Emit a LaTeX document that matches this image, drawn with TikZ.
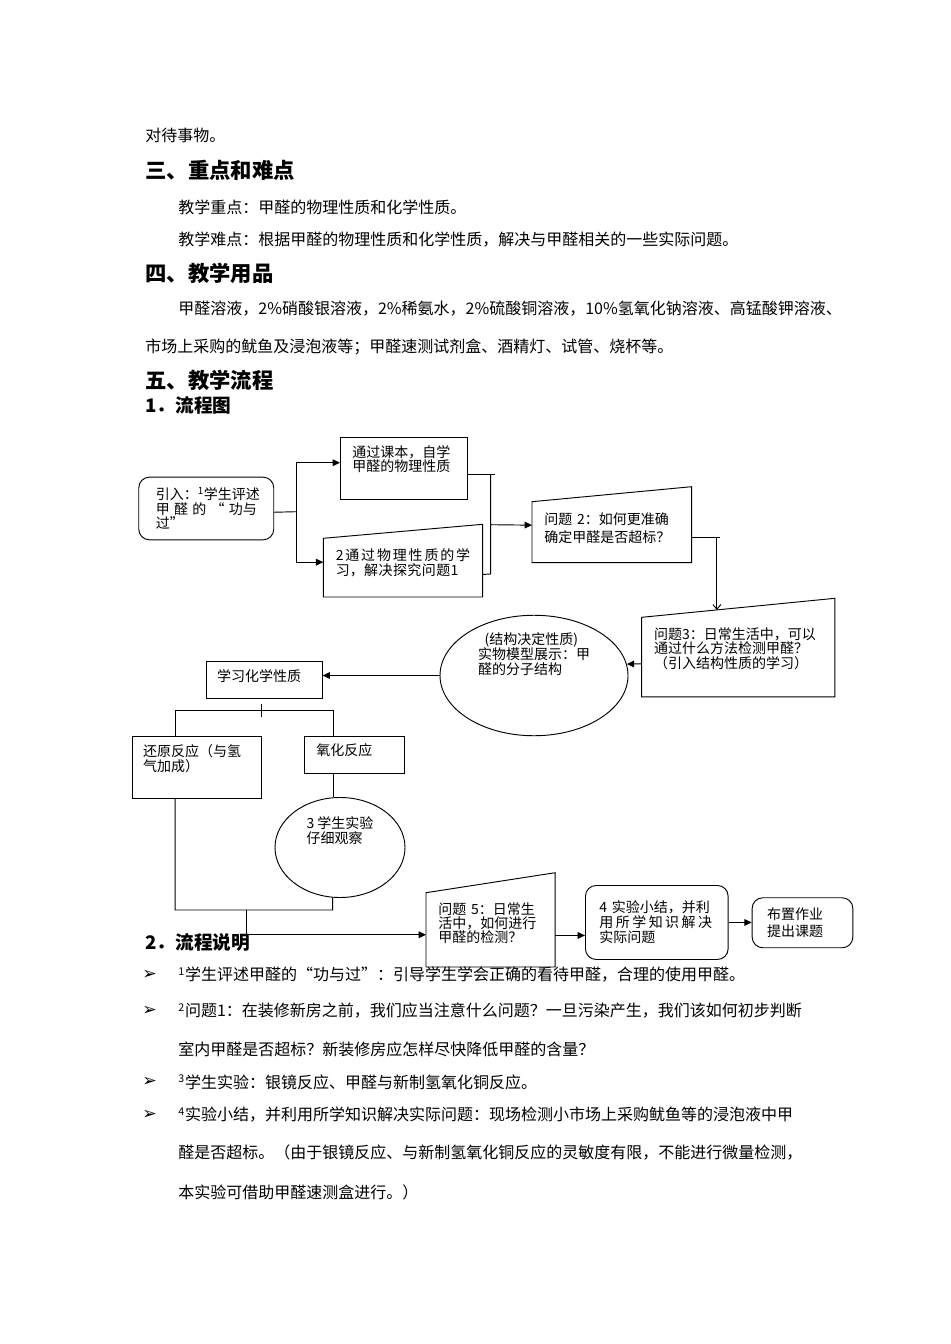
\documentclass[tikz,border=0pt]{standalone}
\usepackage{fontspec}
\setmainfont{Noto Sans CJK SC}
\newfontfamily\symfont{DejaVu Sans}
\usetikzlibrary{arrows.meta, calc, shapes.geometric}

\newcommand{\boxfont}{\fontsize{10.5}{11}\selectfont}
\newcommand{\spreadline}[2]{\makebox[#1][l]{#2}}

\begin{document}
\begin{tikzpicture}[x=0.75pt, y=-0.75pt, line width=0.7pt,
  rectbox/.style={draw, rectangle, anchor=north west, inner xsep=9pt, inner ysep=2pt, align=left, font=\boxfont},
  roundbox/.style={rectbox, rounded corners=8pt},
  inbox/.style={rectbox, draw=none},
  ovalbox/.style={draw, ellipse, inner sep=0pt, align=left, font=\boxfont},
  arr/.style={-{Triangle[length=5.5pt, width=5pt]}},
  barb/.style={-{Straight Barb[length=3.5pt, width=6pt]}},
  bodytext/.style={anchor=west, inner sep=0pt, font=\fontsize{12}{14}\selectfont},
  headtext/.style={bodytext, font=\fontsize{16}{18}\selectfont\bfseries},
  subhead/.style={bodytext, font=\fontsize{14}{16}\selectfont\bfseries},
  bullet/.style={anchor=west, inner sep=0pt, font=\symfont\fontsize{13}{13}\selectfont}]

  \fill[white] (0,0) rectangle (950,1344);
  \useasboundingbox (0,0) rectangle (950,1344);

  % ---- text above the chart ----
  \node[bodytext] (t0) at (145,135) {对待事物。};
  \node[headtext] (h3) at (145,170) {三、重点和难点};
  \node[bodytext] (t1) at (178,207) {教学重点：甲醛的物理性质和化学性质。};
  \node[bodytext] (t2) at (178,240) {教学难点：根据甲醛的物理性质和化学性质，解决与甲醛相关的一些实际问题。};
  \node[headtext] (h4) at (145,273) {四、教学用品};
  \node[bodytext] (t3) at (178,309) {甲醛溶液，2\%硝酸银溶液，2\%稀氨水，2\%硫酸铜溶液，10\%氢氧化钠溶液、高锰酸钾溶液、};
  \node[bodytext] (t4) at (145,347) {市场上采购的鱿鱼及浸泡液等；甲醛速测试剂盒、酒精灯、试管、烧杯等。};
  \node[headtext] (h5) at (145,380) {五、教学流程};
  \node[subhead] (s1) at (145,405) {1．流程图};

  % ---- first row ----
  \node[roundbox, inner xsep=12.75pt, text width=75.75pt, minimum height=47pt] (intro) at (138.3,476.7)
    {引入：\textsuperscript{1}学生评述\\\spreadline{75.75pt}{甲\hfill 醛\hfill 的\hfill “\hfill 功与}\\过”};
  \node[rectbox, text width=77.25pt, minimum height=46.5pt, text depth=25.8pt] (kb) at (340,437)
    {通过课本，自学\\甲醛的物理性质};
  \node[inbox, text width=100.8pt, minimum height=43.3pt, text depth=19.1pt] (tj) at (323.3,538.3)
    {\spreadline{100.8pt}{2\hfill 通\hfill 过\hfill 物\hfill 理\hfill 性\hfill 质\hfill 的\hfill 学}\\\spreadline{92pt}{习，\hfill 解\hfill 决\hfill 探\hfill 究\hfill 问\hfill 题\hfill 1}};
  \draw (tj.south west) -- (tj.north west) -- ([yshift=10.5pt]tj.north east) -- (tj.south east) -- cycle;
  \node[inbox, text width=101pt, minimum height=45pt, text depth=20pt, font=\fontsize{10.5}{13}\selectfont] (q2) at (532,501.7)
    {问题 2：如何更准确\\确定甲醛是否超标？};
  \draw (q2.south west) -- (q2.north west) -- ([yshift=11.25pt]q2.north east) -- (q2.south east) -- cycle;

  \coordinate (j1) at (296.7,511.7);
  \draw ([yshift=-2.8pt]intro.east) -- (j1);
  \draw[arr] (j1) |- ([yshift=4.3pt]kb.west);
  \draw[arr] (j1) |- ([yshift=4.1pt]tj.west);

  \coordinate (j2t) at (490.7,474.3);
  \coordinate (j2b) at (490.7,574);
  \coordinate (j2) at (490.7,524.7);
  \draw ([yshift=-4.7pt]kb.east) -- ++(27,0);
  \draw (j2t) -- (j2b) -- ([yshift=-5.1pt]tj.east);
  \draw[arr] (j2) -- ([yshift=5.25pt]q2.west);

  % ---- second row ----
  \node[inbox, text width=126.2pt, minimum height=59pt, text depth=35.6pt] (q3) at (641.7,617.3)
    {问题3：日常生活中，可以\\通过什么方法检测甲醛？\\（引入结构性质的学习）};
  \draw (q3.south west) -- (q3.north west) -- ([yshift=14.25pt]q3.north east) -- (q3.south east) -- cycle;
  \node[ovalbox, minimum width=141pt, minimum height=86.25pt, text depth=33pt] (jg) at (534,675.5)
    {\hspace{5pt}(结构决定性质)\\实物模型展示：甲\\醛的分子结构};
  \node[rectbox, inner xsep=8.25pt, text width=70.5pt, minimum height=27.75pt, text depth=6.5pt] (sx) at (205.7,661)
    {学习化学性质};

  \draw ([yshift=-4pt]q2.east) -- ++(28.6,0);
  \draw[barb] ([yshift=-4pt]q2.east) -| ($(q3.north west)!0.389!([yshift=14.25pt]q3.north east)$);
  \draw[arr] ([yshift=-5pt]q3.west) -- (jg.7.8);
  \draw[arr] (jg.west) -- (sx.east |- jg.west);

  % ---- reactions ----
  \node[rectbox, inner xsep=8.25pt, text width=80.25pt, minimum height=46.3pt, text depth=25.1pt] (hy) at (131.7,736)
    {还原反应（与氢\\气加成）};
  \node[rectbox, text width=57.2pt, minimum height=28pt, text depth=8pt] (yh) at (304,736)
    {氧化反应};
  \node[ovalbox, minimum width=97.5pt, minimum height=75pt, text depth=26.6pt] (sy) at (340,847.5)
    {3 学生实验\\仔细观察};

  \draw ([xshift=-2.4pt, yshift=-3.75pt]sx.south) -- ++(0,13);
  \draw ([xshift=-16.1pt]hy.north) -- ++(0,-25.3) -| ([xshift=-16.1pt]yh.north);
  \draw ([xshift=-16.1pt]yh.south) -- ([xshift=-16.1pt]yh.south |- sy.north);

  % ---- last row ----
  \node[inbox, text width=78.2pt, minimum height=55pt, text depth=31.3pt, font=\fontsize{10.5}{10.5}\selectfont] (q5) at (426,892.7)
    {问题 5：日常生\\活中，如何进行\\甲醛的检测？};
  \draw (q5.south west) -- (q5.north west) -- ([yshift=15pt]q5.north east) -- (q5.south east) -- cycle;
  \node[roundbox, inner xsep=10.5pt, text width=86pt, minimum height=55.5pt, font=\fontsize{10.5}{11.25}\selectfont] (xs) at (585,885)
    {4 实验小结，并利\\\spreadline{84.5pt}{用\hfill 所\hfill 学\hfill 知\hfill 识\hfill 解\hfill 决}\\实际问题};
  \node[roundbox, inner xsep=11.25pt, text width=53pt, minimum height=37.5pt, font=\fontsize{10.5}{12.5}\selectfont] (bz) at (751.7,897.3)
    {布置作业\\提出课题};

  \coordinate (j3) at (246.7,910);
  \coordinate (j4) at (332.7,910);
  \draw ([xshift=-16.1pt]hy.south) |- (j4) -- ([xshift=-5.5pt]sy.south);
  \draw[arr] (j3) |- ([yshift=-3.7pt]q5.west);
  \draw[arr] ([yshift=-4.2pt]q5.east) coordinate (c5) -- (xs.west |- c5);
  \draw[arr] (xs.east) -- (bz.west |- xs.east);

  % ---- notes below the chart ----
  \node[subhead] (s2) at (145,942) {2．流程说明};
  \node[bullet] (m1) at (142,975) {➢};
  \node[bodytext] (b1) at (178,975) {\textsuperscript{1}学生评述甲醛的“功与过”：引导学生学会正确的看待甲醛，合理的使用甲醛。};
  \node[bullet] (m2) at (142,1011) {➢};
  \node[bodytext] (b2) at (178,1011) {\textsuperscript{2}问题1：在装修新房之前，我们应当注意什么问题？一旦污染产生，我们该如何初步判断};
  \node[bodytext] (b2b) at (178,1049) {室内甲醛是否超标？新装修房应怎样尽快降低甲醛的含量？};
  \node[bullet] (m3) at (142,1082) {➢};
  \node[bodytext] (b3) at (178,1082) {\textsuperscript{3}学生实验：银镜反应、甲醛与新制氢氧化铜反应。};
  \node[bullet] (m4) at (142,1115) {➢};
  \node[bodytext] (b4) at (178,1115) {\textsuperscript{4}实验小结，并利用所学知识解决实际问题：现场检测小市场上采购鱿鱼等的浸泡液中甲};
  \node[bodytext] (b4b) at (178,1152) {醛是否超标。（由于银镜反应、与新制氢氧化铜反应的灵敏度有限，不能进行微量检测，};
  \node[bodytext] (b4c) at (178,1192) {本实验可借助甲醛速测盒进行。）};

\end{tikzpicture}
\end{document}
